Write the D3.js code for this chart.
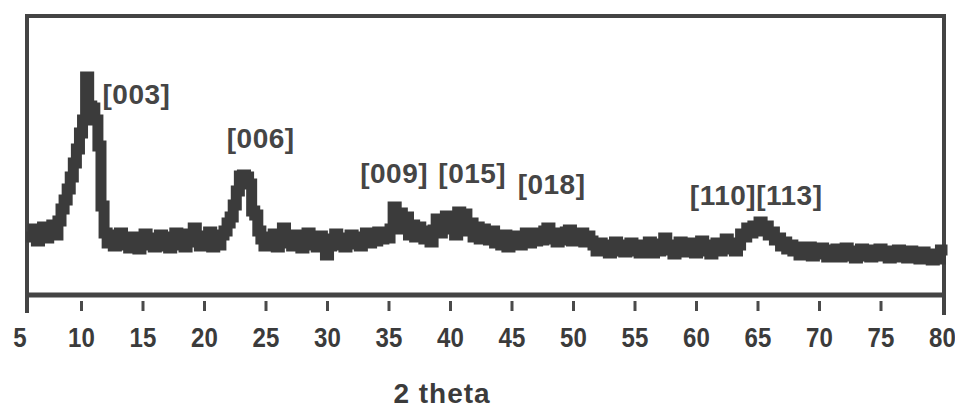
<!DOCTYPE html>
<html>
<head>
<meta charset="utf-8">
<script src="https://cdn.jsdelivr.net/npm/d3@7"></script>
<style>
  html, body { margin: 0; padding: 0; background: #ffffff; }
  svg { display: block; }
</style>
</head>
<body>
<svg id="chart" width="955" height="408"></svg>
<script>
// XRD pattern: intensity (a.u.) on a 0.25° 2θ grid starting at 6°
const scanStart = 6;
const scanStep = 0.25;
const intensity = [
  58, 66, 54, 62, 68, 57, 64, 70,
  60, 74, 86, 95, 106, 118, 132, 146,
  162, 175, 218, 189, 187, 175, 149, 89,
  62, 52, 60, 49, 57, 62, 50, 55,
  47, 58, 52, 46, 56, 61, 50, 57,
  48, 54, 60, 49, 55, 47, 58, 62,
  50, 56, 48, 61, 53, 67, 55, 49,
  59, 52, 63, 48, 56, 50, 60, 64,
  72, 78, 90, 104, 119, 120, 118, 111,
  84, 80, 64, 56, 49, 58, 51, 61,
  48, 55, 67, 52, 58, 49, 60, 53,
  47, 56, 62, 50, 57, 48, 59, 52,
  40, 49, 56, 61, 50, 57, 48, 55,
  60, 51, 57, 49, 58, 62, 52, 59,
  54, 63, 56, 61, 57, 66, 88, 75,
  82, 66, 78, 60, 70, 58, 68, 62,
  56, 64, 53, 65, 76, 62, 74, 79,
  66, 72, 60, 83, 70, 81, 64, 72,
  58, 68, 56, 66, 60, 55, 64, 52,
  58, 50, 60, 48, 56, 51, 59, 50,
  57, 62, 52, 60, 54, 62, 55, 64,
  67, 56, 62, 53, 60, 55, 63, 65,
  54, 61, 56, 62, 53, 59, 54, 50,
  44, 52, 46, 50, 42, 48, 53, 44,
  50, 43, 47, 52, 44, 49, 42, 50,
  46, 53, 42, 49, 44, 51, 57, 45,
  50, 41, 48, 53, 43, 49, 45, 52,
  42, 47, 54, 44, 50, 41, 48, 52,
  44, 49, 56, 46, 52, 44, 50, 61,
  58, 67, 62, 69, 64, 73, 66, 69,
  60, 63, 55, 57, 49, 53, 46, 50,
  44, 48, 40, 46, 42, 48, 39, 45,
  41, 47, 43, 38, 45, 40, 46, 38,
  43, 47, 39, 44, 37, 43, 46, 39,
  44, 38, 45, 40, 46, 39, 43, 37,
  44, 40, 45, 38, 43, 37, 44, 39,
  42, 36, 43, 38, 41, 35, 40, 36,
  45
];
const twoTheta = intensity.map((_, i) => scanStart + i * scanStep);

// Axis ticks and labels
const tickValues = [5, 10, 15, 20, 25, 30, 35, 40, 45, 50, 55, 60, 65, 70, 75, 80];

// Reflection labels (Miller indices) and their anchor positions in data units
const peakLabels = ["[003]", "[006]", "[009]", "[015]", "[018]", "[110][113]"];
const peakLabelTheta = [11.75, 21.85, 32.7, 39.05, 45.5, 59.5];
const peakLabelLevel = [191, 147, 112, 112, 101, 90];

const svg = d3.select("#chart");
const ink = "#3b3b3b";

const x = d3.scaleLinear().domain([5, 80]).range([19.5, 942]);
const y = d3.scaleLinear().domain([0, 280]).range([295, 15]);

// Frame around the plot area
const frameL = 27, frameR = 944, frameT = 16, frameB = 295;
const frame = svg.append("g").attr("stroke", "#444").attr("stroke-width", 4).attr("fill", "none");
frame.append("line").attr("x1", frameL - 2).attr("x2", frameR + 2).attr("y1", frameT).attr("y2", frameT);
frame.append("line").attr("x1", frameL).attr("x2", frameL).attr("y1", frameT - 2).attr("y2", 313);
frame.append("line").attr("x1", frameR).attr("x2", frameR).attr("y1", frameT - 2).attr("y2", 315);
frame.append("line").attr("x1", frameL).attr("x2", frameR).attr("y1", frameB).attr("y2", frameB).attr("stroke-width", 5);

// Diffraction trace
const data = twoTheta.map((t, i) => ({ t, v: intensity[i] }));
const line = d3.line().x(d => x(d.t)).y(d => y(d.v)).curve(d3.curveStep);
svg.append("path")
  .datum(data)
  .attr("d", line)
  .attr("fill", "none")
  .attr("stroke", ink)
  .attr("stroke-width", 11)
  .attr("stroke-linejoin", "miter")
  .attr("stroke-linecap", "square");

// Bottom axis: detached tick marks below the frame, bold condensed labels
const axis = d3.axisBottom(x).tickValues(tickValues).tickSize(10).tickPadding(16).tickFormat(d3.format("d"));
const gx = svg.append("g").attr("transform", "translate(0,301)").call(axis);
gx.select(".domain").remove();
gx.selectAll(".tick line")
  .attr("stroke", "#4a4a4a")
  .attr("stroke-width", 3)
  .attr("opacity", d => (d === 5 || d === 80) ? 0 : 1);
gx.selectAll(".tick text")
  .attr("fill", ink)
  .attr("font-family", "'Liberation Sans', Arial, sans-serif")
  .attr("font-weight", "bold")
  .attr("font-size", 28)
  .attr("transform", "scale(0.86,1)");

// Axis title
svg.append("text")
  .attr("x", 442)
  .attr("y", 403)
  .attr("text-anchor", "middle")
  .attr("fill", ink)
  .attr("font-family", "'Liberation Sans', Arial, sans-serif")
  .attr("font-weight", "bold")
  .attr("font-size", 28)
  .attr("letter-spacing", 1)
  .text("2 theta");

// Reflection labels
svg.append("g")
  .selectAll("text")
  .data(peakLabels)
  .join("text")
  .attr("x", (d, i) => x(peakLabelTheta[i]))
  .attr("y", (d, i) => y(peakLabelLevel[i]))
  .attr("fill", "#454545")
  .attr("font-family", "'Liberation Sans', Arial, sans-serif")
  .attr("font-weight", "bold")
  .attr("font-size", 28)
  .attr("letter-spacing", 0.5)
  .text(d => d);
</script>
</body>
</html>
